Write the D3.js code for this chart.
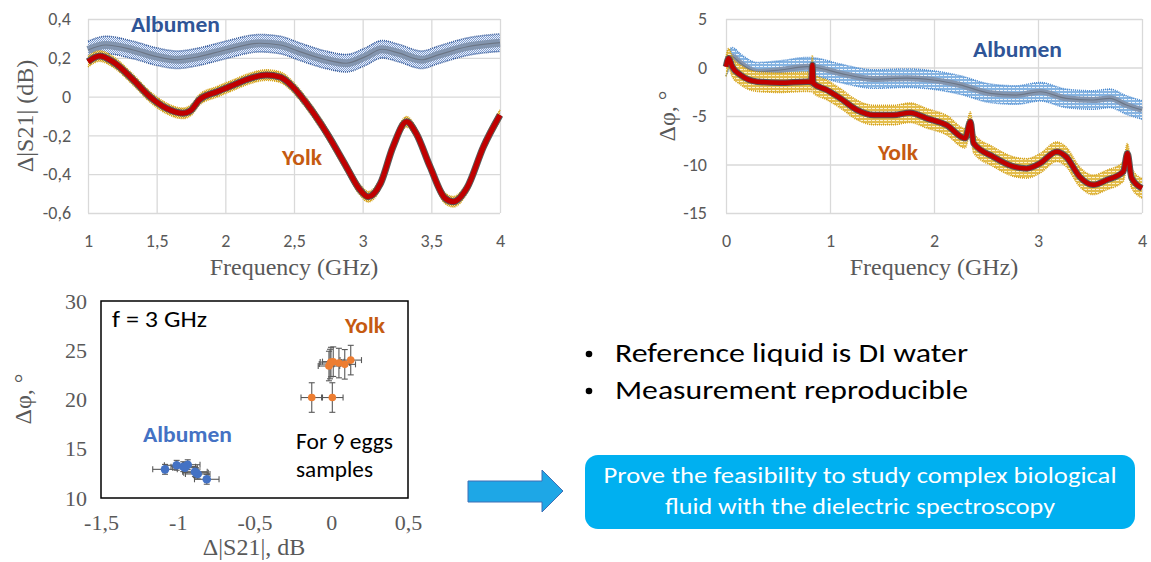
<!DOCTYPE html>
<html>
<head>
<meta charset="utf-8">
<script src="https://cdn.jsdelivr.net/npm/d3@7"></script>
<style>
  body { margin: 0; background: #fff; }
  svg { display: block; }
</style>
</head>
<body>
<script>
// ---- data ----
// top left: delta |S21| (dB) vs frequency (GHz)
const s21AlbFreq = [1.0, 1.13, 1.33, 1.5, 1.65, 1.81, 2.0, 2.25, 2.4, 2.54, 2.73, 2.88, 3.02, 3.14, 3.26, 3.43, 3.55, 3.76, 4.0];
const s21Albumen = [0.24, 0.266, 0.24, 0.206, 0.19, 0.206, 0.24, 0.275, 0.266, 0.232, 0.19, 0.172, 0.206, 0.244, 0.225, 0.19, 0.215, 0.257, 0.278];
const s21YolkFreq = [1.0, 1.085, 1.18, 1.33, 1.45, 1.57, 1.69, 1.75, 1.81, 1.94, 2.06, 2.18, 2.3, 2.4, 2.49, 2.59, 2.74, 2.88, 2.98, 3.04, 3.13, 3.22, 3.32, 3.39, 3.49, 3.6, 3.66, 3.76, 3.88, 4.0];
const s21Yolk = [0.18, 0.209, 0.18, 0.086, 0.0, -0.06, -0.086, -0.07, -0.017, 0.025, 0.06, 0.094, 0.111, 0.1, 0.051, -0.034, -0.19, -0.36, -0.48, -0.516, -0.447, -0.26, -0.13, -0.19, -0.36, -0.524, -0.542, -0.47, -0.258, -0.095];
const s21AlbErr = 0.045;
const s21YolkErr = 0.027;
const s21XTicks = [1, 1.5, 2, 2.5, 3, 3.5, 4];
const s21YTicks = [-0.6, -0.4, -0.2, 0, 0.2, 0.4];

// top right: delta phase (deg) vs frequency (GHz)
const phAlbFreq = [0, 0.06, 0.14, 0.3, 0.52, 0.78, 0.87, 1.1, 1.42, 1.74, 1.99, 2.25, 2.54, 2.79, 3.02, 3.27, 3.53, 3.69, 3.85, 4.0];
const phAlbumen = [0.08, 1.1, 0.43, -0.43, -0.26, 0.08, 0.0, -0.6, -1.19, -1.1, -1.29, -1.8, -2.66, -2.84, -2.5, -3.18, -3.35, -3.18, -3.87, -4.38];
const phYolkFreq = [0, 0.026, 0.06, 0.14, 0.3, 0.52, 0.78, 0.82, 0.83, 0.84, 0.97, 1.1, 1.26, 1.42, 1.61, 1.77, 1.93, 2.12, 2.3, 2.35, 2.38, 2.57, 2.76, 2.89, 3.02, 3.18, 3.27, 3.4, 3.53, 3.66, 3.82, 3.86, 3.9, 4.0];
const phYolk = [0.08, 0.95, 0.08, -0.77, -1.46, -1.57, -1.46, -1.5, 0.25, -1.64, -2.32, -3.18, -4.38, -4.9, -4.9, -4.66, -5.24, -5.93, -7.3, -5.58, -7.8, -9.2, -10.2, -10.4, -9.88, -8.68, -9.2, -11.26, -12.1, -11.6, -10.74, -8.85, -11.4, -12.45];
const phAlbErr = 0.95;
const phYolkErr = 1.0;
const phXTicks = [0, 1, 2, 3, 4];
const phYTicks = [-15, -10, -5, 0, 5];

// bottom left: scatter at f = 3 GHz
const yolkX = [-0.127, 0.007, -0.015, -0.002, 0.013, 0.05, 0.088, 0.127, -0.008];
const yolkY = [20.2, 20.2, 23.4, 23.8, 23.84, 23.7, 23.57, 24.0, 23.6];
const albX = [-1.083, -1.007, -0.953, -0.935, -0.881, -0.870, -0.811, -0.888, -0.964];
const albY = [12.91, 13.32, 13.08, 13.38, 12.57, 12.44, 11.9, 12.67, 13.18];
const yolkXErr = 0.07, yolkYErr = 1.5;
const albXErr = 0.08, albYErr = 0.5;
const scXTicks = [-1.5, -1, -0.5, 0, 0.5];
const scYTicks = [10, 15, 20, 25, 30];

const bullets = ["Reference liquid is DI water", "Measurement reproducible"];
const boxLines = ["Prove the feasibility to study complex biological", "fluid with the dielectric spectroscopy"];

// ---- drawing ----
const sans = "Carlito, Calibri, Lato, sans-serif";
const serif = "'Liberation Serif', 'Times New Roman', serif";
const gray = "#595959";

const loc = d3.formatLocale({ decimal: ",", thousands: ".", grouping: [3], currency: ["", ""], minus: "-" });
const fmt = (d) => loc.format("~g")(d);

const svg = d3.select("body").append("svg")
    .attr("width", 1151)
    .attr("height", 562);

const defs = svg.append("defs");

// dotted fills that imitate the dense error bars
function dotPattern(id, bg, dot, w, h) {
    const p = defs.append("pattern").attr("id", id)
        .attr("patternUnits", "userSpaceOnUse")
        .attr("width", w).attr("height", h);
    p.append("rect").attr("width", w).attr("height", h).attr("fill", bg);
    p.append("rect").attr("width", 1).attr("height", 1).attr("fill", dot);
    p.append("rect").attr("x", 1).attr("y", Math.floor(h / 2)).attr("width", 1).attr("height", 1).attr("fill", dot);
}
dotPattern("albDots", "#eef3fa", "#7d9bd0", 2, 2);
dotPattern("yolkDots", "#f6e4a6", "#d4a017", 2, 2);

function dashPattern(id, bg, dash) {
    const p = defs.append("pattern").attr("id", id)
        .attr("patternUnits", "userSpaceOnUse")
        .attr("width", 4).attr("height", 3);
    p.append("rect").attr("width", 4).attr("height", 3).attr("fill", bg);
    p.append("rect").attr("width", 3).attr("height", 1).attr("fill", dash);
}
dashPattern("albDash", "#86b4e2", "#eef4fb");
dashPattern("yolkDash", "#e3bd4c", "#fbf1d2");

function zipPts(xs, ys) {
    return xs.map((x, i) => ({ x: x, y: ys[i] }));
}

function lineChart(opt) {
    const x = d3.scaleLinear().domain(opt.xDomain).range(opt.xRange);
    const y = d3.scaleLinear().domain(opt.yDomain).range(opt.yRange);
    const g = svg.append("g");

    // grid
    g.append("g").attr("transform", `translate(0,${opt.yRange[0]})`)
        .call(d3.axisBottom(x).tickValues(opt.xTicks).tickSize(opt.yRange[1] - opt.yRange[0]).tickFormat(""))
        .call(a => a.select(".domain").remove())
        .selectAll("line").attr("stroke", "#d9d9d9").attr("stroke-width", 1.3);
    g.append("g").attr("transform", `translate(${opt.xRange[0]},0)`)
        .call(d3.axisLeft(y).tickValues(opt.yTicks).tickSize(-(opt.xRange[1] - opt.xRange[0])).tickFormat(""))
        .call(a => a.select(".domain").remove())
        .selectAll("line").attr("stroke", "#d9d9d9").attr("stroke-width", 1.3);

    // tick labels
    g.append("g").attr("transform", `translate(0,${opt.yRange[0]})`)
        .call(d3.axisBottom(x).tickValues(opt.xTicks).tickSize(0).tickPadding(21).tickFormat(fmt))
        .call(a => a.select(".domain").remove())
        .selectAll("text").attr("font-family", sans).attr("font-size", 18).attr("fill", gray);
    g.append("g").attr("transform", `translate(${opt.xRange[0]},0)`)
        .call(d3.axisLeft(y).tickValues(opt.yTicks).tickSize(0).tickPadding(opt.yPad).tickFormat(fmt))
        .call(a => a.select(".domain").remove())
        .selectAll("text").attr("font-family", sans).attr("font-size", 18).attr("fill", gray);

    const curve = d3.curveMonotoneX;
    opt.series.forEach(s => {
        const pts = zipPts(s.xs, s.ys);
        const area = d3.area().curve(curve)
            .x(d => x(d.x)).y0(d => y(d.y - s.err)).y1(d => y(d.y + s.err));
        g.append("path").datum(pts).attr("d", area).attr("fill", s.fill);
        [1, -1].forEach(sign => {
            g.append("path").datum(pts)
                .attr("d", d3.line().curve(curve).x(d => x(d.x)).y(d => y(d.y + sign * s.err)))
                .attr("fill", "none").attr("stroke", s.edge).attr("stroke-width", 1.6)
                .attr("stroke-dasharray", "1,1");
        });
        const line = d3.line().curve(curve).x(d => x(d.x)).y(d => y(d.y));
        if (s.under) {
            g.append("path").datum(pts).attr("d", line).attr("fill", "none")
                .attr("stroke", s.under).attr("stroke-width", s.width + 2).attr("stroke-linejoin", "round");
        }
        g.append("path").datum(pts).attr("d", line).attr("fill", "none")
            .attr("stroke", s.color).attr("stroke-width", s.width).attr("stroke-linejoin", "round");
        if (s.center) {
            g.append("path").datum(pts).attr("d", line).attr("fill", "none")
                .attr("stroke", s.center).attr("stroke-width", 1.2);
        }
    });

    // titles
    svg.append("text").attr("x", (opt.xRange[0] + opt.xRange[1]) / 2).attr("y", 275)
        .attr("text-anchor", "middle").attr("font-family", serif).attr("font-size", 24).attr("fill", gray)
        .text("Frequency (GHz)");
    svg.append("text").attr("transform", `translate(${opt.yTitleX},${(opt.yRange[0] + opt.yRange[1]) / 2}) rotate(-90)`)
        .attr("text-anchor", "middle").attr("font-family", serif).attr("font-size", 24).attr("fill", gray)
        .text(opt.yTitle);

    opt.labels.forEach(l => {
        svg.append("text").attr("x", l.x).attr("y", l.y).attr("font-family", sans)
            .attr("font-weight", "bold").attr("font-size", 22).attr("fill", l.color)
            .attr("textLength", l.len).attr("lengthAdjust", "spacingAndGlyphs").text(l.text);
    });
}

lineChart({
    xDomain: [1, 4], xRange: [88, 500], yDomain: [-0.6, 0.4], yRange: [213, 19],
    xTicks: s21XTicks, yTicks: s21YTicks, yPad: 17,
    yTitle: "\u0394|S21| (dB)", yTitleX: 33,
    series: [
        { xs: s21AlbFreq, ys: s21Albumen, err: s21AlbErr, fill: "url(#albDots)", edge: "#2f5597", color: "#8496b0", width: 8, center: "#6d7787" },
        { xs: s21YolkFreq, ys: s21Yolk, err: s21YolkErr, fill: "url(#yolkDots)", edge: "#d4a017", color: "#c00000", width: 5, under: "#5a5a5a" }
    ],
    labels: [
        { text: "Albumen", x: 131, y: 32, color: "#2f5597", len: 89 },
        { text: "Yolk", x: 282, y: 165, color: "#c55a11", len: 40 }
    ]
});

lineChart({
    xDomain: [0, 4], xRange: [726, 1142], yDomain: [-15, 5], yRange: [213, 19],
    xTicks: phXTicks, yTicks: phYTicks, yPad: 19,
    yTitle: "\u0394\u03c6, \u00b0", yTitleX: 675,
    series: [
        { xs: phAlbFreq, ys: phAlbumen, err: phAlbErr, fill: "url(#albDash)", edge: "#4a8ad0", color: "#8496b0", width: 6, center: "#6d7787" },
        { xs: phYolkFreq, ys: phYolk, err: phYolkErr, fill: "url(#yolkDash)", edge: "#d4a017", color: "#c00000", width: 4.5, under: "#5a5a5a" }
    ],
    labels: [
        { text: "Albumen", x: 973, y: 57, color: "#2f5597", len: 89 },
        { text: "Yolk", x: 878, y: 160, color: "#c55a11", len: 40 }
    ]
});

// ---- scatter ----
const sx = d3.scaleLinear().domain([-1.5, 0.5]).range([101, 408]);
const sy = d3.scaleLinear().domain([10, 30]).range([498, 301]);
const sc = svg.append("g");

sc.append("g").attr("transform", "translate(0,498)")
    .call(d3.axisBottom(sx).tickValues(scXTicks).tickSize(0).tickPadding(16).tickFormat(fmt))
    .call(a => a.select(".domain").remove())
    .selectAll("text").attr("font-family", serif).attr("font-size", 22).attr("fill", gray);
sc.append("g").attr("transform", "translate(101,0)")
    .call(d3.axisLeft(sy).tickValues(scYTicks).tickSize(0).tickPadding(14).tickFormat(fmt))
    .call(a => a.select(".domain").remove())
    .selectAll("text").attr("font-family", serif).attr("font-size", 22).attr("fill", gray);

sc.append("rect").attr("x", sx(-1.5)).attr("y", sy(30))
    .attr("width", sx(0.5) - sx(-1.5)).attr("height", sy(10) - sy(30))
    .attr("fill", "none").attr("stroke", "#000").attr("stroke-width", 1.5);

function scatter(xs, ys, xe, ye, color, r) {
    const pts = zipPts(xs, ys);
    const eb = sc.append("g").attr("stroke", "#595959").attr("stroke-width", 1.1);
    pts.forEach(d => {
        eb.append("line").attr("x1", sx(d.x - xe)).attr("x2", sx(d.x + xe)).attr("y1", sy(d.y)).attr("y2", sy(d.y));
        eb.append("line").attr("x1", sx(d.x)).attr("x2", sx(d.x)).attr("y1", sy(d.y - ye)).attr("y2", sy(d.y + ye));
        [-xe, xe].forEach(e => eb.append("line").attr("x1", sx(d.x + e)).attr("x2", sx(d.x + e))
            .attr("y1", sy(d.y) - 3).attr("y2", sy(d.y) + 3));
        [-ye, ye].forEach(e => eb.append("line").attr("x1", sx(d.x) - 3).attr("x2", sx(d.x) + 3)
            .attr("y1", sy(d.y + e)).attr("y2", sy(d.y + e)));
    });
    sc.selectAll(null).data(pts).enter().append("circle")
        .attr("cx", d => sx(d.x)).attr("cy", d => sy(d.y)).attr("r", r).attr("fill", color);
}
scatter(albX, albY, albXErr, albYErr, "#4472c4", 4.3);
scatter(yolkX, yolkY, yolkXErr, yolkYErr, "#ed7d31", 3.8);

const scText = [
    { text: "f = 3 GHz", x: 112, y: 327, color: "#000", bold: false, size: 23, len: 95 },
    { text: "Yolk", x: 345, y: 333, color: "#c55a11", bold: true, size: 22, len: 40 },
    { text: "Albumen", x: 143, y: 442, color: "#4472c4", bold: true, size: 22, len: 89 },
    { text: "For 9 eggs", x: 296, y: 449, color: "#000", bold: false, size: 22, len: 97 },
    { text: "samples", x: 296, y: 477, color: "#000", bold: false, size: 22, len: 77 }
];
scText.forEach(t => {
    svg.append("text").attr("x", t.x).attr("y", t.y).attr("font-family", sans)
        .attr("font-weight", t.bold ? "bold" : "normal").attr("font-size", t.size).attr("fill", t.color)
        .attr("textLength", t.len).attr("lengthAdjust", "spacingAndGlyphs").text(t.text);
});

svg.append("text").attr("x", 254).attr("y", 555).attr("text-anchor", "middle")
    .attr("font-family", serif).attr("font-size", 24).attr("fill", gray).text("\u0394|S21|, dB");
svg.append("text").attr("transform", "translate(31,399) rotate(-90)").attr("text-anchor", "middle")
    .attr("font-family", serif).attr("font-size", 24).attr("fill", gray).text("\u0394\u03c6, \u00b0");

// ---- bullets ----
bullets.forEach((b, i) => {
    const yb = 362 + i * 37;
    svg.append("circle").attr("cx", 589).attr("cy", yb - 8).attr("r", 3.3).attr("fill", "#000");
    svg.append("text").attr("x", 615).attr("y", yb).attr("font-family", sans).attr("font-size", 26)
        .attr("fill", "#000").attr("textLength", 353).attr("lengthAdjust", "spacingAndGlyphs").text(b);
});

// ---- arrow and conclusion box ----
svg.append("path")
    .attr("d", "M468,481 L542,481 L542,470 L563,491 L542,512 L542,502 L468,502 Z")
    .attr("fill", "#1ea7e6").attr("stroke", "#3f6fb5").attr("stroke-width", 1);

svg.append("rect").attr("x", 585).attr("y", 455).attr("width", 550).attr("height", 74)
    .attr("rx", 13).attr("fill", "#00b0f0");
const boxLens = [513, 390];
boxLines.forEach((l, i) => {
    svg.append("text").attr("x", 860).attr("y", 483 + i * 31).attr("text-anchor", "middle")
        .attr("font-family", sans).attr("font-size", 22).attr("fill", "#fff")
        .attr("textLength", boxLens[i]).attr("lengthAdjust", "spacingAndGlyphs").text(l);
});
</script>
</body>
</html>
